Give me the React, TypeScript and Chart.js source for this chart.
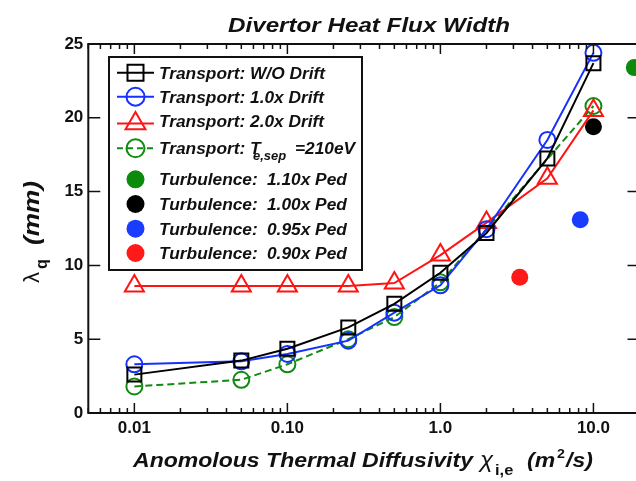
import React, { useEffect, useRef } from 'react';
import { Chart, registerables } from 'chart.js';
Chart.register(...registerables);

// ---------- data ----------
const chiValues = [0.01, 0.05, 0.1, 0.25, 0.5, 1.0, 2.0, 5.0, 10.0];
const noDrift = [2.6, 3.55, 4.35, 5.8, 7.4, 9.5, 12.2, 17.25, 23.7];
const drift1x = [3.3, 3.5, 4.0, 4.9, 6.8, 8.65, 12.45, 18.5, 24.4];
const drift2x = [8.6, 8.6, 8.6, 8.6, 8.8, 10.7, 12.9, 15.9, 20.5];
const teSepChi = [0.01, 0.05, 0.1, 0.25, 0.5, 1.0, 10.0];
const teSep210 = [1.8, 2.25, 3.3, 5.0, 6.5, 8.85, 20.8];
const turbLabels = ['1.10x Ped', '1.00x Ped', '0.95x Ped', '0.90x Ped'];
const turbChi = [18.5, 10.0, 8.2, 3.3];
const turbLambda = [23.4, 19.4, 13.1, 9.2];
const xTickValues = [0.01, 0.1, 1, 10];
const xTickLabels = ['0.01', '0.10', '1.0', '10.0'];
const yTickValues = [0, 5, 10, 15, 20, 25];

const BLACK = '#000000';
const BLUE = '#1530ff';
const RED = '#ff1414';
const GREEN = '#108a10';
const turbColors = ['#0c8a0c', '#000000', '#1a3cff', '#ff1a1a'];

const FAM = '"Liberation Sans", Arial, sans-serif';

function pts(xs: number[], ys: number[]) {
  return xs.map((x, i) => ({ x, y: ys[i] }));
}

function fitText(ctx: CanvasRenderingContext2D, text: string, x: number, y: number, font: string, sx: number) {
  ctx.save();
  ctx.font = font;
  ctx.translate(x, y);
  ctx.scale(sx, 1);
  ctx.textAlign = 'left';
  ctx.textBaseline = 'alphabetic';
  ctx.fillText(text, 0, 0);
  ctx.restore();
}

function scaleFor(ctx: CanvasRenderingContext2D, text: string, font: string, w: number) {
  ctx.save();
  ctx.font = font;
  const m = ctx.measureText(text).width;
  ctx.restore();
  return w / m;
}

function drawMarker(ctx: CanvasRenderingContext2D, style: string, x: number, y: number, color: string, filled: boolean) {
  ctx.save();
  ctx.strokeStyle = color;
  ctx.fillStyle = color;
  ctx.lineWidth = 2;
  ctx.beginPath();
  if (style === 'rect') {
    ctx.rect(x - 8, y - 8, 16, 16);
  } else if (style === 'triangle') {
    const r = 11.5;
    for (let k = 0; k < 3; k++) {
      const a = (k * 2 * Math.PI) / 3;
      const px = x + Math.sin(a) * r;
      const py = y - Math.cos(a) * r;
      if (k === 0) ctx.moveTo(px, py); else ctx.lineTo(px, py);
    }
    ctx.closePath();
  } else {
    ctx.arc(x, y, 9, 0, Math.PI * 2);
  }
  if (filled) ctx.fill(); else ctx.stroke();
  ctx.restore();
}

const decorPlugin = {
  id: 'decor',
  afterDatasetsDraw(chart: any) {
    const ctx: CanvasRenderingContext2D = chart.ctx;
    const xs = chart.scales.x;
    const ys = chart.scales.y;
    const { left, right, top, bottom } = chart.chartArea;
    ctx.save();
    // axes box
    ctx.strokeStyle = '#111';
    ctx.lineWidth = 2;
    ctx.beginPath();
    ctx.moveTo(left, top); ctx.lineTo(right, top); ctx.lineTo(right, bottom); ctx.lineTo(left, bottom); ctx.closePath();
    ctx.stroke();
    // x ticks (top & bottom, inward)
    ctx.lineWidth = 1.5;
    const min = xs.min, max = xs.max;
    for (let e = -3; e <= 2; e++) {
      for (let m = 1; m <= 9; m++) {
        const v = m * Math.pow(10, e);
        if (v < min * 0.999 || v > max * 1.001) continue;
        const px = xs.getPixelForValue(v);
        const len = m === 1 ? 10 : 5;
        ctx.beginPath();
        ctx.moveTo(px, bottom); ctx.lineTo(px, bottom - len);
        ctx.moveTo(px, top); ctx.lineTo(px, top + len);
        ctx.stroke();
      }
    }
    // y ticks
    for (const v of yTickValues) {
      const py = ys.getPixelForValue(v);
      ctx.beginPath();
      ctx.moveTo(left, py); ctx.lineTo(left + 12, py);
      ctx.moveTo(right, py); ctx.lineTo(right - 12, py);
      ctx.stroke();
    }
    ctx.restore();

    // ----- titles -----
    ctx.save();
    ctx.fillStyle = '#111';
    const tFont = `italic bold 21px ${FAM}`;
    const tText = 'Divertor Heat Flux Width';
    fitText(ctx, tText, 228, 32, tFont, scaleFor(ctx, tText, tFont, 282));

    const xFont = `italic bold 21px ${FAM}`;
    const xMain = 'Anomolous Thermal Diffusivity';
    const sx = scaleFor(ctx, xMain, xFont, 340);
    fitText(ctx, xMain, 133, 467, xFont, sx);
    fitText(ctx, 'χ', 480, 467, `italic 22px ${FAM}`, sx);
    fitText(ctx, 'i,e', 495, 475, `bold 15px ${FAM}`, sx);
    fitText(ctx, '(m', 527, 467, xFont, sx);
    fitText(ctx, '2', 557, 458, `bold 13px ${FAM}`, sx);
    fitText(ctx, '/s)', 566, 467, xFont, sx);

    // y title (rotated)
    ctx.save();
    ctx.translate(39, 283);
    ctx.rotate(-Math.PI / 2);
    const yFont = `italic bold 22px ${FAM}`;
    fitText(ctx, 'λ', 0, 0, `22px ${FAM}`, 1);
    fitText(ctx, 'q', 14, 8, `bold 16px ${FAM}`, 1);
    const ymm = '(mm)';
    fitText(ctx, ymm, 38, 0, yFont, scaleFor(ctx, ymm, yFont, 64));
    ctx.restore();
    ctx.restore();

    // ----- legend -----
    ctx.save();
    ctx.fillStyle = '#ffffff';
    ctx.fillRect(109, 57, 253, 213);
    ctx.strokeStyle = '#111';
    ctx.lineWidth = 2;
    ctx.strokeRect(109, 57, 253, 213);
    const lFont = `italic bold 16px ${FAM}`;
    const lsx = scaleFor(ctx, 'Transport: W/O Drift', lFont, 166);
    const lines = [
      { c: BLACK, m: 'rect', y: 72.7, b: 78.5, t: 'Transport: W/O Drift', dash: false },
      { c: BLUE, m: 'circle', y: 96.7, b: 102.7, t: 'Transport: 1.0x Drift', dash: false },
      { c: RED, m: 'triangle', y: 123.5, b: 126.8, t: 'Transport: 2.0x Drift', dash: false },
      { c: GREEN, m: 'circle', y: 148.3, b: 153.5, t: '', dash: true },
    ];
    for (const l of lines) {
      ctx.save();
      ctx.strokeStyle = l.c;
      ctx.lineWidth = 2;
      if (l.dash) ctx.setLineDash([6, 4]);
      ctx.beginPath();
      ctx.moveTo(117, l.y); ctx.lineTo(154, l.y);
      ctx.stroke();
      ctx.restore();
      drawMarker(ctx, l.m, 135.5, l.y, l.c, false);
      ctx.fillStyle = '#111';
      if (l.t) fitText(ctx, l.t, 159, l.b, lFont, lsx);
    }
    ctx.fillStyle = '#111';
    fitText(ctx, 'Transport: T', 159, 153.5, lFont, lsx);
    fitText(ctx, 'e,sep', 253, 160, `italic bold 12px ${FAM}`, lsx);
    fitText(ctx, '=210eV', 295, 153.5, lFont, lsx);
    const turbY = [179.3, 204, 228.7, 253];
    const turbB = [185, 210, 235.3, 259];
    turbLabels.forEach((lab, i) => {
      drawMarker(ctx, 'circle', 135.5, turbY[i], turbColors[i], true);
      ctx.fillStyle = '#111';
      fitText(ctx, 'Turbulence:', 159, turbB[i], lFont, lsx);
      fitText(ctx, lab, 267, turbB[i], lFont, lsx);
    });
    ctx.restore();
  },
};

export default function App() {
  const ref = useRef<HTMLCanvasElement>(null);
  useEffect(() => {
    document.body.style.margin = '0';
    document.body.style.overflow = 'hidden';
    const canvas = ref.current!;
    const tickFont = { family: FAM, size: 17, weight: 'bold' as const };
    const common = { showLine: true, borderWidth: 2, pointBorderWidth: 2, pointBackgroundColor: 'rgba(0,0,0,0)', backgroundColor: 'rgba(0,0,0,0)', pointHoverRadius: 0 };
    const chart = new Chart(canvas, {
      type: 'scatter',
      data: {
        datasets: [
          { ...common, label: 'Transport: W/O Drift', data: pts(chiValues, noDrift), borderColor: BLACK, pointBorderColor: BLACK, pointStyle: 'rect', pointRadius: 9.9 },
          { ...common, label: 'Transport: 1.0x Drift', data: pts(chiValues, drift1x), borderColor: BLUE, pointBorderColor: BLUE, pointStyle: 'circle', pointRadius: 8 },
          { ...common, label: 'Transport: 2.0x Drift', data: pts(chiValues, drift2x), borderColor: RED, pointBorderColor: RED, pointStyle: 'triangle', pointRadius: 11 },
          { ...common, label: 'Transport: Te,sep=210eV', data: pts(teSepChi, teSep210), borderColor: GREEN, pointBorderColor: GREEN, pointStyle: 'circle', pointRadius: 8, borderDash: [7, 4] },
          ...turbLabels.map((lab, i) => ({
            label: 'Turbulence: ' + lab,
            data: [{ x: turbChi[i], y: turbLambda[i] }],
            showLine: false,
            pointStyle: 'circle' as const,
            pointRadius: 8.5,
            pointBorderWidth: 0,
            pointBackgroundColor: turbColors[i],
            backgroundColor: turbColors[i],
            borderColor: turbColors[i],
            pointHoverRadius: 0,
          })),
        ],
      },
      options: {
        responsive: false,
        animation: false,
        events: [],
        layout: { autoPadding: false, padding: { top: 44, right: 6.5, left: 0, bottom: 0 } },
        plugins: { legend: { display: false }, tooltip: { enabled: false }, title: { display: false } },
        scales: {
          x: {
            type: 'logarithmic',
            min: 0.005,
            max: 20,
            grid: { display: false, drawTicks: false },
            border: { display: false },
            afterBuildTicks: (s: any) => { s.ticks = xTickValues.map((v) => ({ value: v, major: true })); },
            afterFit: (s: any) => { s.height = 68; s.paddingLeft = 0; s.paddingRight = 0; },
            ticks: {
              autoSkip: false,
              maxRotation: 0,
              padding: 5,
              color: '#111',
              font: tickFont,
              callback: (v: any) => { const i = xTickValues.indexOf(Number(v)); return i >= 0 ? xTickLabels[i] : ''; },
            },
          },
          y: {
            type: 'linear',
            min: 0,
            max: 25,
            grid: { display: false, drawTicks: false },
            border: { display: false },
            afterBuildTicks: (s: any) => { s.ticks = yTickValues.map((v) => ({ value: v })); },
            afterFit: (s: any) => { s.width = 88.3; },
            ticks: { padding: 5, color: '#111', font: tickFont },
          },
        },
      },
      plugins: [decorPlugin],
    } as any);
    return () => chart.destroy();
  }, []);
  return (
    <div style={{ width: 636, height: 481, overflow: 'hidden', position: 'relative' }}>
      <canvas ref={ref} width={646} height={481} style={{ display: 'block', position: 'absolute', left: 0, top: 0 }} />
    </div>
  );
}
